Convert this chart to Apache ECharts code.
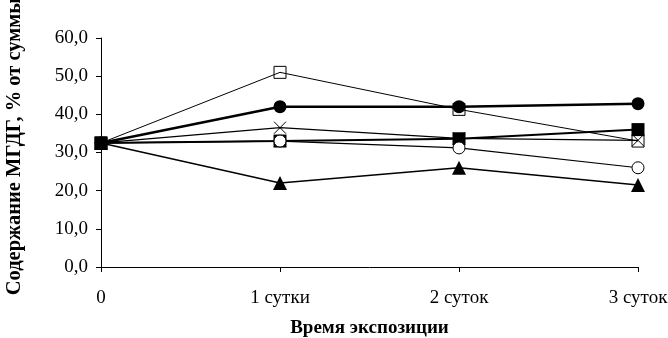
<!DOCTYPE html>
<html><head><meta charset="utf-8">
<script src="https://cdn.jsdelivr.net/npm/echarts@6/dist/echarts.min.js"></script>
<style>html,body{margin:0;padding:0;background:#fff}#c{width:668px;height:338px}</style>
</head><body><div id="c"></div>
<script>
const categories = ['0', '1 сутки', '2 суток', '3 суток'];
const openSquare = [32.5, 51.0, 41.3, 33.0];
const filledCircle = [32.5, 42.0, 42.0, 42.8];
const crossMark = [32.5, 36.5, 33.7, 33.2];
const filledSquare = [32.5, 33.0, 33.6, 36.0];
const openCircle = [32.5, 33.0, 31.2, 26.0];
const triangle = [32.5, 22.0, 26.0, 21.5];
const yTicks = { min: 0, max: 60, interval: 10 };
const xTitle = 'Время экспозиции';
const yTitle = 'Содержание МГДГ, % от суммы';

const font = '"Liberation Serif", "Times New Roman", serif';
const chart = echarts.init(document.getElementById('c'), null, { renderer: 'canvas' });

function hideFirst(arr) {
  return arr.map((v, i) => i === 0 ? { value: v, symbol: 'none' } : v);
}

chart.setOption({
  animation: false,
  backgroundColor: '#fff',
  grid: { left: 101, right: 30, top: 38, bottom: 71, containLabel: false, outerBoundsMode: 'none' },
  xAxis: {
    type: 'category', data: categories, boundaryGap: false,
    axisLine: { lineStyle: { color: '#000', width: 1 } },
    axisTick: { show: true, length: 5, inside: false, alignWithLabel: true, lineStyle: { color: '#000' } },
    axisLabel: { color: '#000', fontFamily: font, fontSize: 19, margin: 22 },
    splitLine: { show: false },
    name: xTitle, nameLocation: 'middle', nameGap: 52,
    nameTextStyle: { color: '#000', fontFamily: font, fontSize: 19, fontWeight: 'bold' }
  },
  yAxis: {
    type: 'value', min: yTicks.min, max: yTicks.max, interval: yTicks.interval,
    axisLine: { show: true, lineStyle: { color: '#000', width: 1 } },
    axisTick: { show: true, length: 5, lineStyle: { color: '#000' } },
    axisLabel: { color: '#000', fontFamily: font, fontSize: 19, margin: 13,
      formatter: v => v.toFixed(1).replace('.', ',') },
    splitLine: { show: false },
    name: yTitle, nameLocation: 'middle', nameGap: 76,
    nameTextStyle: { color: '#000', fontFamily: font, fontSize: 20.5, fontWeight: 'bold', padding: [0, 0, 0, 12] }
  },
  series: [
    { name: 'A', type: 'line', data: openSquare, z: 2,
      symbol: 'rect', symbolSize: 12,
      lineStyle: { color: '#000', width: 1 },
      itemStyle: { color: 'rgba(0,0,0,0)', borderColor: '#000', borderWidth: 1 } },
    { name: 'B', type: 'line', data: filledCircle, z: 3,
      symbol: 'circle', symbolSize: 13,
      lineStyle: { color: '#000', width: 2.5 },
      itemStyle: { color: '#000', borderColor: '#000', borderWidth: 0 } },
    { name: 'C', type: 'line', data: crossMark, z: 4,
      symbol: 'path://M0,0L10,10M10,0L0,10', symbolSize: 12,
      lineStyle: { color: '#000', width: 1.2 },
      itemStyle: { color: 'rgba(0,0,0,0)', borderColor: '#000', borderWidth: 1 } },
    { name: 'D', type: 'line', data: filledSquare, z: 6,
      symbol: 'rect', symbolSize: 13,
      lineStyle: { color: '#000', width: 2 },
      itemStyle: { color: '#000', borderColor: '#000', borderWidth: 0 } },
    { name: 'E', type: 'line', data: hideFirst(openCircle), z: 7,
      symbol: 'circle', symbolSize: 12,
      lineStyle: { color: '#000', width: 1.2 },
      itemStyle: { color: '#fff', borderColor: '#000', borderWidth: 1 } },
    { name: 'F', type: 'line', data: triangle, z: 5,
      symbol: 'triangle', symbolSize: 14,
      lineStyle: { color: '#000', width: 1.5 },
      itemStyle: { color: '#000', borderColor: '#000', borderWidth: 0 } }
  ]
});
</script>
</body></html>
